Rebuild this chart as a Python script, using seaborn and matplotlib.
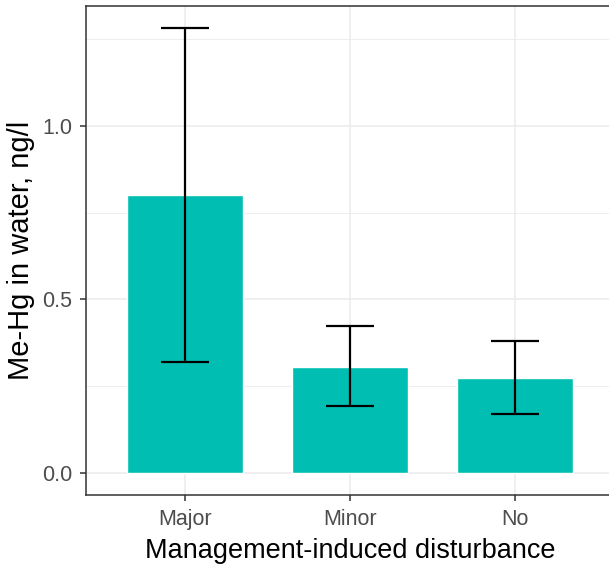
import numpy as np
import pandas as pd
import matplotlib
matplotlib.use("Agg")
import matplotlib.pyplot as plt
import seaborn as sns

categories = ["Major", "Minor", "No"]
means = [0.801, 0.306, 0.273]
lower = [0.320, 0.194, 0.170]
upper = [1.282, 0.422, 0.380]

df = pd.DataFrame({"disturbance": categories, "mehg": means})

sns.set_style("white")
plt.rcParams["font.family"] = ["Liberation Sans", "DejaVu Sans"]

fig = plt.figure(figsize=(6.09, 5.67), dpi=100)
ax = fig.add_axes([86 / 609, 72 / 567, 528 / 609, 489 / 567])

sns.barplot(data=df, x="disturbance", y="mehg", color="#00BFB2",
            saturation=1, width=0.7, errorbar=None, ax=ax, zorder=2)

m = np.array(means)
yerr = [m - np.array(lower), np.array(upper) - m]
ax.errorbar(categories, means, yerr=yerr, fmt="none", ecolor="black",
            elinewidth=1.6, capsize=17.5, capthick=1.6, zorder=3)

ax.set_xlim(-0.6, 2.6)
ax.set_ylim(-0.064, 1.346)
ax.set_yticks([0.0, 0.5, 1.0])
ax.set_yticklabels(["0.0", "0.5", "1.0"])
ax.set_yticks([0.25, 0.75, 1.25], minor=True)

ax.grid(True, which="major", color="#EBEBEB", linewidth=1.1, zorder=0)
ax.grid(True, which="minor", axis="y", color="#EBEBEB", linewidth=0.6, zorder=0)
ax.set_axisbelow(True)

for s in ax.spines.values():
    s.set_color("#333333")
    s.set_linewidth(1.1)

ax.tick_params(axis="both", which="major", length=4.3, width=1.1,
               color="#333333", labelcolor="#4D4D4D", labelsize=15.5, pad=5.5)
ax.tick_params(axis="both", which="minor", length=0)
ax.tick_params(axis="x", bottom=True)
ax.tick_params(axis="y", left=True)

ax.set_xlabel("Management-induced disturbance", fontsize=19.5, color="black", labelpad=6)
ax.set_ylabel("Me-Hg in water, ng/l", fontsize=21, color="black", labelpad=5)

fig.savefig("out.png", dpi=100)
